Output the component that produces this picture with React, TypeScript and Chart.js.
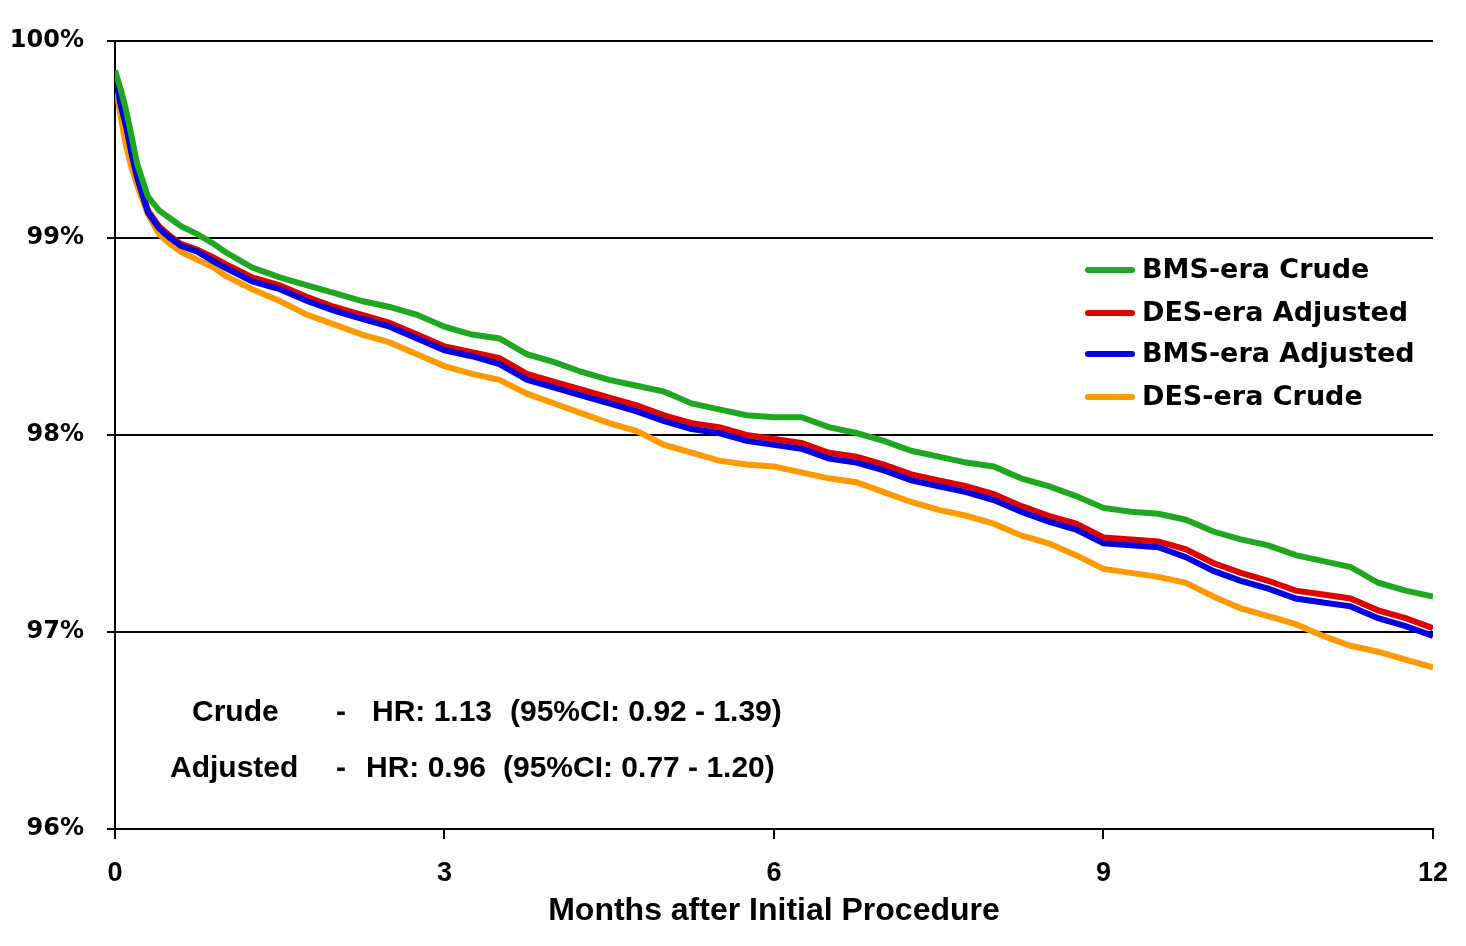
import React, { useEffect, useRef } from "react";
import { Chart, registerables } from "chart.js";

Chart.register(...registerables);

const months = [0, 0.05, 0.1, 0.15, 0.2, 0.3, 0.4, 0.5, 0.6, 0.75, 0.9, 1.0, 1.25, 1.5, 1.75, 2.0, 2.25, 2.5, 2.75, 3.0, 3.25, 3.5, 3.75, 4.0, 4.25, 4.5, 4.75, 5.0, 5.25, 5.5, 5.75, 6.0, 6.25, 6.5, 6.75, 7.0, 7.25, 7.5, 7.75, 8.0, 8.25, 8.5, 8.75, 9.0, 9.25, 9.5, 9.75, 10.0, 10.25, 10.5, 10.75, 11.0, 11.25, 11.5, 11.75, 12.0];

const bmsCrude = [99.85, 99.76, 99.65, 99.52, 99.38, 99.21, 99.14, 99.10, 99.06, 99.02, 98.97, 98.93, 98.85, 98.80, 98.76, 98.72, 98.68, 98.65, 98.61, 98.55, 98.51, 98.49, 98.41, 98.37, 98.32, 98.28, 98.25, 98.22, 98.16, 98.13, 98.10, 98.09, 98.09, 98.04, 98.01, 97.97, 97.92, 97.89, 97.86, 97.84, 97.78, 97.74, 97.69, 97.63, 97.61, 97.60, 97.57, 97.51, 97.47, 97.44, 97.39, 97.36, 97.33, 97.25, 97.21, 97.18];

const desAdjusted = [99.84, 99.69, 99.58, 99.44, 99.32, 99.14, 99.06, 99.01, 98.97, 98.94, 98.90, 98.87, 98.80, 98.76, 98.70, 98.65, 98.61, 98.57, 98.51, 98.45, 98.42, 98.39, 98.31, 98.27, 98.23, 98.19, 98.15, 98.10, 98.06, 98.04, 98.00, 97.98, 97.96, 97.91, 97.89, 97.85, 97.80, 97.77, 97.74, 97.70, 97.64, 97.59, 97.55, 97.48, 97.47, 97.46, 97.42, 97.35, 97.30, 97.26, 97.21, 97.19, 97.17, 97.11, 97.07, 97.02];

const bmsAdjusted = [99.83, 99.68, 99.57, 99.43, 99.31, 99.13, 99.05, 99.00, 98.96, 98.93, 98.88, 98.85, 98.78, 98.74, 98.68, 98.63, 98.59, 98.55, 98.49, 98.43, 98.40, 98.36, 98.28, 98.24, 98.20, 98.16, 98.12, 98.07, 98.03, 98.01, 97.97, 97.95, 97.93, 97.88, 97.86, 97.82, 97.77, 97.74, 97.71, 97.67, 97.61, 97.56, 97.52, 97.45, 97.44, 97.43, 97.38, 97.31, 97.26, 97.22, 97.17, 97.15, 97.13, 97.07, 97.03, 96.98];

const desCrude = [99.81, 99.62, 99.47, 99.36, 99.27, 99.12, 99.02, 98.97, 98.93, 98.89, 98.85, 98.81, 98.74, 98.68, 98.61, 98.56, 98.51, 98.47, 98.41, 98.35, 98.31, 98.28, 98.21, 98.16, 98.11, 98.06, 98.02, 97.95, 97.91, 97.87, 97.85, 97.84, 97.81, 97.78, 97.76, 97.71, 97.66, 97.62, 97.59, 97.55, 97.49, 97.45, 97.39, 97.32, 97.30, 97.28, 97.25, 97.18, 97.12, 97.08, 97.04, 96.98, 96.93, 96.90, 96.86, 96.82];

const seriesLabels = ["BMS-era Crude", "DES-era Adjusted", "BMS-era Adjusted", "DES-era Crude"];
const seriesColors = ["#1fa81f", "#e00000", "#0000e0", "#ff9900"];
const xTicks = [0, 3, 6, 9, 12];
const yTicks = [96, 97, 98, 99, 100];
const xTitle = "Months after Initial Procedure";

const statLines = [
  ["Crude", "-", "HR: 1.13", "(95%CI: 0.92 - 1.39)"],
  ["Adjusted", "-", "HR: 0.96", "(95%CI: 0.77 - 1.20)"],
];

const toPoints = (vals: number[]) => vals.map((v, i) => ({ x: months[i], y: v }));

const overlayPlugin = {
  id: "overlay",
  afterDatasetsDraw(chart: any) {
    const { ctx, chartArea } = chart;
    const L = chartArea.left;
    const T = chartArea.top;
    ctx.save();
    // legend
    ctx.font = "bold 27px 'DejaVu Sans'";
    ctx.textBaseline = "middle";
    ctx.textAlign = "left";
    const legendX = L + 973;
    const legendY = [T + 229, T + 272, T + 313, T + 356];
    seriesLabels.forEach((lab, i) => {
      ctx.strokeStyle = seriesColors[i];
      ctx.lineWidth = 6;
      ctx.lineCap = "round";
      ctx.beginPath();
      ctx.moveTo(legendX, legendY[i]);
      ctx.lineTo(legendX + 44, legendY[i]);
      ctx.stroke();
      ctx.fillStyle = "#000";
      ctx.fillText(lab, legendX + 54, legendY[i] + 1);
    });
    // stats
    ctx.font = "bold 30px 'Liberation Sans', Arial, sans-serif";
    const colX = [
      [L + 77, L + 226, L + 257, L + 395],
      [L + 55, L + 226, L + 251, L + 388],
    ];
    const rowY = [T + 672, T + 728];
    statLines.forEach((parts, r) => {
      parts.forEach((p, c) => {
        ctx.textAlign = c === 1 ? "center" : "left";
        ctx.fillText(p, colX[r][c], rowY[r]);
      });
    });
    ctx.restore();
  },
};

export default function App() {
  const ref = useRef<HTMLCanvasElement | null>(null);
  useEffect(() => {
    document.body.style.margin = "0";
    const canvas = ref.current!;
    const chart = new Chart(canvas, {
      type: "line",
      data: {
        datasets: [
          { label: seriesLabels[0], data: toPoints(bmsCrude), borderColor: seriesColors[0], order: 0 },
          { label: seriesLabels[1], data: toPoints(desAdjusted), borderColor: seriesColors[1], order: 2 },
          { label: seriesLabels[2], data: toPoints(bmsAdjusted), borderColor: seriesColors[2], order: 1 },
          { label: seriesLabels[3], data: toPoints(desCrude), borderColor: seriesColors[3], order: 3 },
        ].map((d) => ({ ...d, borderWidth: 6, pointRadius: 0, tension: 0, fill: false })),
      },
      options: {
        responsive: false,
        animation: false,
        devicePixelRatio: 1,
        layout: { padding: { top: 41, right: 33, left: 0, bottom: 0 } },
        plugins: { legend: { display: false }, tooltip: { enabled: false } },
        scales: {
          x: {
            type: "linear",
            min: 0,
            max: 12,
            afterBuildTicks: (s: any) => {
              s.ticks = xTicks.map((v) => ({ value: v }));
            },
            afterFit: (s: any) => {
              s.height = 117;
            },
            grid: { drawOnChartArea: false, drawTicks: true, tickLength: 10, color: "#000", lineWidth: 2 },
            border: { display: true, color: "#000", width: 2 },
            ticks: {
              color: "#000",
              padding: 18,
              maxRotation: 0,
              font: { family: "'Liberation Sans', Arial, sans-serif", size: 27, weight: "bold" },
            },
            title: {
              display: true,
              text: xTitle,
              color: "#000",
              padding: { top: 0, bottom: 16 },
              font: { family: "'Liberation Sans', Arial, sans-serif", size: 32, weight: "bold" },
            },
          },
          y: {
            type: "linear",
            min: 96,
            max: 100,
            afterBuildTicks: (s: any) => {
              s.ticks = yTicks.map((v) => ({ value: v }));
            },
            afterFit: (s: any) => {
              s.width = 115;
            },
            grid: { drawOnChartArea: true, drawTicks: true, tickLength: 8, color: "#000", lineWidth: 2 },
            border: { display: true, color: "#000", width: 2 },
            ticks: {
              color: "#000",
              padding: 23,
              callback: (v: any) => v + "%",
              font: { family: "'DejaVu Sans', sans-serif", size: 24, weight: "bold" },
            },
          },
        },
      },
      plugins: [overlayPlugin],
    } as any);
    return () => chart.destroy();
  }, []);
  return (
    <div style={{ position: "fixed", left: 0, top: 0, width: 1466, height: 946, background: "#fff" }}>
      <canvas ref={ref} width={1466} height={946} style={{ display: "block" }} />
    </div>
  );
}
